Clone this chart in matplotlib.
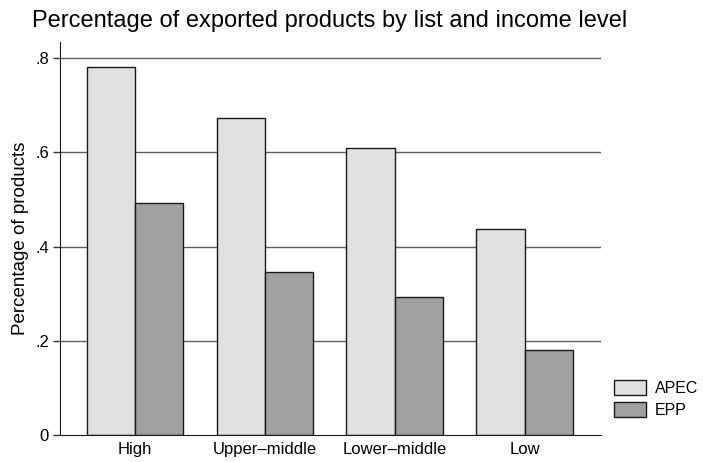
import matplotlib
matplotlib.use("Agg")
import matplotlib.pyplot as plt
import numpy as np
from matplotlib.ticker import FuncFormatter

plt.rcParams['font.family'] = ['Liberation Sans', 'DejaVu Sans']

income_levels = ["High", "Upper–middle", "Lower–middle", "Low"]
apec_share = [0.782, 0.673, 0.609, 0.437]
epp_share = [0.493, 0.346, 0.293, 0.180]
series_names = ["APEC", "EPP"]
y_ticks = [0, 0.2, 0.4, 0.6, 0.8]


def fmt_tick(v, pos):
    if abs(v) < 1e-9:
        return "0"
    return "{:.1f}".format(v).lstrip("0")


W, H = 703, 462
fig = plt.figure(figsize=(W / 100, H / 100), dpi=100)
ax = fig.add_axes([60 / W, (H - 435) / H, (601 - 60) / W, (435 - 42) / H])

x = np.arange(len(income_levels))
w = 0.373
ax.bar(x - w / 2, apec_share, width=w, color='#e0e0e0', edgecolor='#1a1a1a',
       linewidth=1.0, label=series_names[0], zorder=3)
ax.bar(x + w / 2, epp_share, width=w, color='#a0a0a0', edgecolor='#1a1a1a',
       linewidth=1.0, label=series_names[1], zorder=3)

ax.set_xlim(-0.577, 3.585)
ax.set_ylim(0, 0.834)
ax.set_yticks(y_ticks)
ax.yaxis.set_major_formatter(FuncFormatter(fmt_tick))
ax.set_xticks(x)
ax.set_xticklabels(income_levels, fontsize=12)
ax.tick_params(axis='x', length=0, pad=5)
ax.tick_params(axis='y', length=5, width=1, color='#333333', labelsize=12, pad=3)

for v in y_ticks[1:]:
    ax.axhline(v, color='#606060', linewidth=1.0, zorder=1)

for s in ['top', 'right']:
    ax.spines[s].set_visible(False)
ax.spines['left'].set_color('#1a1a1a')
ax.spines['bottom'].set_color('#1a1a1a')
ax.spines['bottom'].set_zorder(4)

ax.set_ylabel("Percentage of products", fontsize=13.5, labelpad=4)

fig.text(32 / W, 1 - 27 / H, "Percentage of exported products by list and income level",
         fontsize=17, ha='left', va='baseline')

fig.legend(loc='upper left', bbox_to_anchor=(614 / W, 1 - 380 / H), frameon=False,
           fontsize=11.5, handlelength=2.0, handleheight=1.05, labelspacing=0.4,
           handletextpad=0.55, borderpad=0, borderaxespad=0)

fig.savefig("out.png", dpi=100)
